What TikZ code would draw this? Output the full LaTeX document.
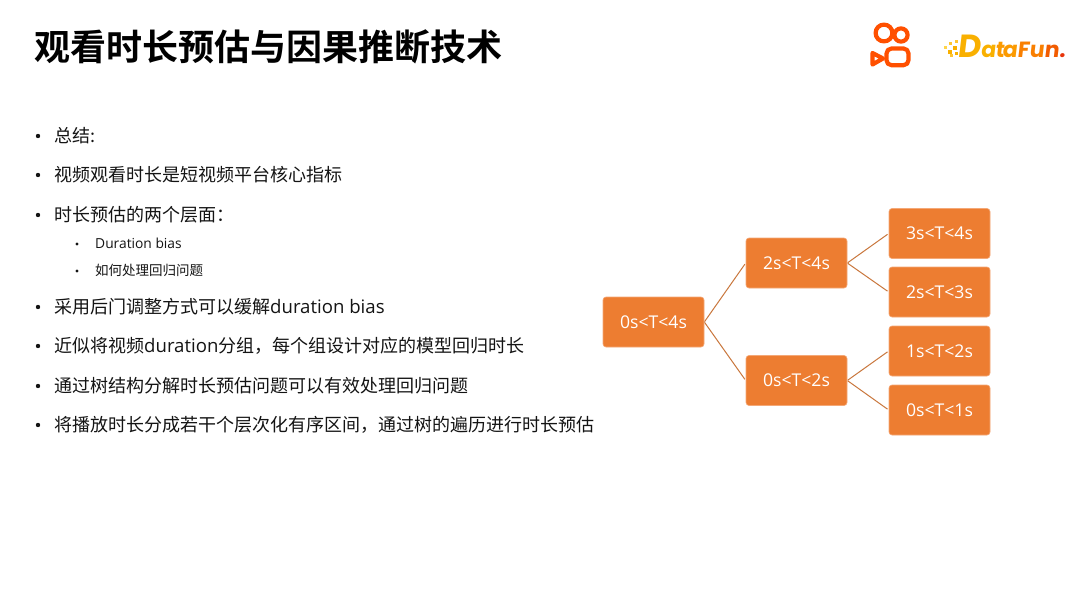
\documentclass[tikz,border=0pt]{standalone}
\usepackage{fontspec}
\setmainfont{Open Sans}
\newfontfamily\cjk{Noto Sans CJK SC}[BoldFont=* Bold]
\newfontfamily\logofont{Poppins}[BoldFont=* Bold,FakeSlant=0.12]
\newcommand{\latinpart}[1]{{\fontspec{Open Sans}\fontsize{18.6}{18.6}\selectfont #1}}
\definecolor{boxfill}{HTML}{ED7D31}
\definecolor{boxedge}{HTML}{F4A877}
\definecolor{linkc}{HTML}{C9773D}
\definecolor{textc}{HTML}{141414}
\definecolor{ksred}{HTML}{FF5000}
\definecolor{dfa}{HTML}{FFD54A}
\definecolor{dfb}{HTML}{FFC531}
\definecolor{dfc}{HTML}{F9B000}
\definecolor{dfd}{HTML}{FB9A00}
\definecolor{dfe}{HTML}{F97F00}
\definecolor{dff}{HTML}{F25C00}
\definecolor{dfg}{HTML}{E8340A}
\tikzset{
  titletext/.style={anchor=base west,inner sep=0pt,text=black,font=\cjk\bfseries\fontsize{36}{36}\selectfont},
  mainitem/.style={anchor=base west,inner sep=0pt,text=textc,font=\cjk\fontsize{18}{18}\selectfont},
  subitem/.style={anchor=base west,inner sep=0pt,text=textc,font=\cjk\fontsize{13.5}{14}\selectfont},
  mainbullet/.style={circle,fill=textc,inner sep=0pt,minimum size=4.4pt},
  subbullet/.style={circle,fill=textc,inner sep=0pt,minimum size=3.2pt},
  treebox/.style={rectangle,rounded corners=3pt,fill=boxfill,draw=boxedge,line width=0.6pt,
    minimum width=101pt,minimum height=50pt,inner sep=0pt,text=white,font=\fontsize{17.6}{17.6}\selectfont},
  treelink/.style={draw=linkc,line width=1pt,shorten <=0.5pt,shorten >=1.5pt},
  kslogo/.style={draw=ksred,line width=4.2pt,line join=round},
  logoletter/.style={anchor=base west,inner sep=0pt,font=\logofont\bfseries\fontsize{22}{22}\selectfont},
  logobig/.style={anchor=base west,inner sep=0pt,font=\logofont\bfseries\fontsize{32}{32}\selectfont}
}
\begin{document}
\begin{tikzpicture}[x=1pt,y=-1pt]
\useasboundingbox (0,0) rectangle (1080,608);
\fill[white] (0,0) rectangle (1080,608);
\node[titletext] (title) at (34,60) {观看时长预估与因果推断技术};

\node[mainbullet] (b1) at (38,136) {};
\node[mainitem] (t1) at (54,142) {总结:};
\node[mainbullet] (b2) at (38,175) {};
\node[mainitem] (t2) at (54,181) {视频观看时长是短视频平台核心指标};
\node[mainbullet] (b3) at (38,215) {};
\node[mainitem] (t3) at (54,221) {时长预估的两个层面：};
\node[subbullet] (b4) at (77,244) {};
\node[subitem] (t4) at (95,248) {\fontspec{Open Sans}\fontsize{13.8}{14}\selectfont Duration bias};
\node[subbullet] (b5) at (77,271) {};
\node[subitem] (t5) at (95,275) {如何处理回归问题};
\node[mainbullet] (b6) at (38,307) {};
\node[mainitem] (t6) at (54,313) {采用后门调整方式可以缓解\latinpart{duration bias}};
\node[mainbullet] (b7) at (38,346) {};
\node[mainitem] (t7) at (54,352) {近似将视频\latinpart{duration}分组，每个组设计对应的模型回归时长};
\node[mainbullet] (b8) at (38,386) {};
\node[mainitem] (t8) at (54,392) {通过树结构分解时长预估问题可以有效处理回归问题};
\node[mainbullet] (b9) at (38,425) {};
\node[mainitem] (t9) at (54,431) {将播放时长分成若干个层次化有序区间，通过树的遍历进行时长预估};

\node[treebox] (root) at (653.5,322) {0s<T<4s};
\node[treebox] (hi) at (796.5,263) {2s<T<4s};
\node[treebox] (lo) at (796.5,380.5) {0s<T<2s};
\node[treebox] (l1) at (939.5,233.5) {3s<T<4s};
\node[treebox] (l2) at (939.5,292) {2s<T<3s};
\node[treebox] (l3) at (939.5,351) {1s<T<2s};
\node[treebox] (l4) at (939.5,410) {0s<T<1s};
\draw[treelink] (root.east) -- (hi.west);
\draw[treelink] (root.east) -- (lo.west);
\draw[treelink] (hi.east) -- (l1.west);
\draw[treelink] (hi.east) -- (l2.west);
\draw[treelink] (lo.east) -- (l3.west);
\draw[treelink] (lo.east) -- (l4.west);

% Kuaishou logo
\draw[kslogo] (884,33) circle (8.4);
\draw[kslogo] (901,35) circle (6.6);
\draw[kslogo,rounded corners=5pt] (886.5,48.5) rectangle (908.5,65.2);
\draw[kslogo] (883,58.5) -- (872.5,53) -- (872.5,64.5) -- cycle;

% DataFun logo
\foreach \px/\py/\ps/\pc in {944/46/3/dfa, 949/42/3/dfb, 955/40/3/dfb, 948/50/4/dfc, 953/46/4/dfc, 950/54/3/dfb, 955/52/3/dfc}{
  \fill[\pc] (\px,\py) rectangle ++(\ps,\ps);
}
\node[logobig,text=dfc] (ld) at (957,57.5) {D};
\node[logoletter,text=dfc] (la) at (980.5,57.5) {a};
\node[logoletter,text=dfd] (lt) at (995,57.5) {t};
\node[logoletter,text=dfd] (la2) at (1002,57.5) {a};
\node[logoletter,text=dfe] (lf) at (1017,57.5) {F};
\node[logoletter,text=dfe] (lu) at (1029,57.5) {u};
\node[logoletter,text=dff] (ln) at (1044,57.5) {n};
\node[logoletter,text=dfg] (ldot) at (1059,57.5) {.};
\end{tikzpicture}
\end{document}
